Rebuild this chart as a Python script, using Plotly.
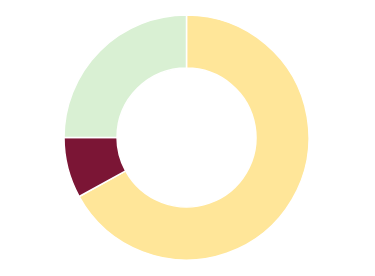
import plotly.graph_objects as go

labels = ["A", "B", "C"]
values = [67, 8, 25]
colors = ["#FFE699", "#7B1535", "#D9F0D3"]

fig = go.Figure(go.Pie(
    labels=labels,
    values=values,
    hole=0.567,
    sort=False,
    direction="clockwise",
    rotation=0,
    marker=dict(colors=colors, line=dict(color="white", width=1.5)),
    textinfo="none",
    hoverinfo="label+value+percent",
    showlegend=False,
    domain=dict(x=[0, 1], y=[0, 1]),
))
fig.update_layout(
    width=375, height=276,
    margin=dict(l=0, r=2, t=15, b=16),
    paper_bgcolor="white",
    plot_bgcolor="white",
)
fig.write_html("out.html")
